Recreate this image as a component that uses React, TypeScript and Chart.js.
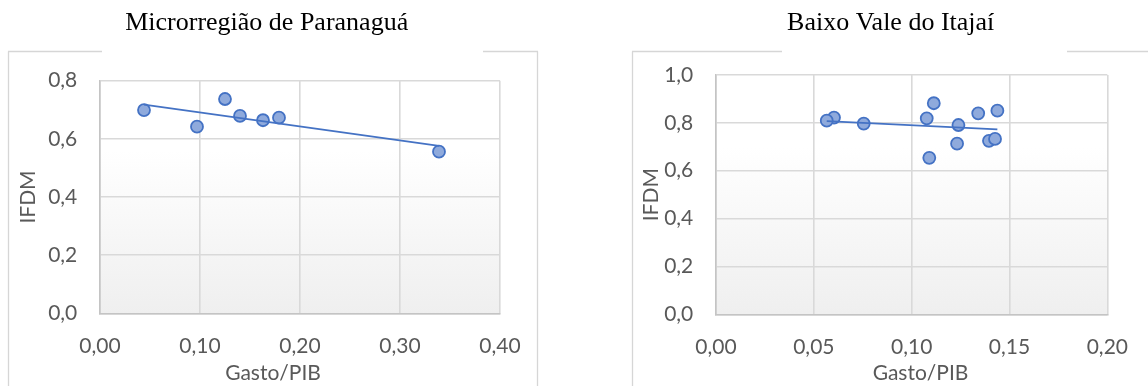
import React, { useEffect, useRef } from 'react';
import { Chart, registerables } from 'chart.js';

Chart.register(...registerables);

// ---------- data ----------
const leftTitle = 'Microrregião de Paranaguá';
const rightTitle = 'Baixo Vale do Itajaí';
const xAxisTitle = 'Gasto/PIB';
const yAxisTitle = 'IFDM';

const leftGasto = [0.044, 0.097, 0.125, 0.140, 0.163, 0.179, 0.339];
const leftIfdm = [0.699, 0.642, 0.737, 0.679, 0.664, 0.673, 0.556];

const rightGasto = [0.0603, 0.0566, 0.0755, 0.1077, 0.1113, 0.109, 0.1239, 0.1232, 0.134, 0.1438, 0.1395, 0.1426];
const rightIfdm = [0.822, 0.809, 0.797, 0.819, 0.882, 0.654, 0.791, 0.713, 0.84, 0.851, 0.725, 0.733];

const leftXTicks = [0, 0.1, 0.2, 0.3, 0.4];
const leftYTicks = [0, 0.2, 0.4, 0.6, 0.8];
const rightXTicks = [0, 0.05, 0.1, 0.15, 0.2];
const rightYTicks = [0, 0.2, 0.4, 0.6, 0.8, 1.0];

// ---------- styles ----------
const TICK_COLOR = '#595959';
const GRID_COLOR = '#d9d9d9';
const AXIS_COLOR = '#c4c4c4';
const FRAME_COLOR = '#d6d6d6';
const POINT_FILL = '#8faadc';
const POINT_BORDER = '#4472c4';
const LABEL_FONT = 'Lato, "Noto Sans", sans-serif';
const TITLE_FONT = '"Liberation Serif", "Times New Roman", serif';

function fmt(decimals: number) {
  return (v: number | string) => Number(v).toFixed(decimals).replace('.', ',');
}

function trend(xs: number[], ys: number[]) {
  const n = xs.length;
  const mx = xs.reduce((a, b) => a + b, 0) / n;
  const my = ys.reduce((a, b) => a + b, 0) / n;
  let sxy = 0;
  let sxx = 0;
  for (let i = 0; i < n; i++) {
    sxy += (xs[i] - mx) * (ys[i] - my);
    sxx += (xs[i] - mx) * (xs[i] - mx);
  }
  const slope = sxy / sxx;
  const x0 = Math.min(...xs);
  const x1 = Math.max(...xs);
  return [
    { x: x0, y: my + slope * (x0 - mx) },
    { x: x1, y: my + slope * (x1 - mx) },
  ];
}

type Cfg = {
  title: string;
  xs: number[];
  ys: number[];
  xTicks: number[];
  yTicks: number[];
  xDec: number;
  canvasLeft: number;
  width: number;
  padL: number;
  padR: number;
  yW: number;
  xH: number;
  titleBottom: number;
  xTitleX: number;
  xTitleY: number;
  frame: number[][]; // line segments in page coords [x1,y1,x2,y2]
};

const leftCfg: Cfg = {
  title: leftTitle,
  xs: leftGasto,
  ys: leftIfdm,
  xTicks: leftXTicks,
  yTicks: leftYTicks,
  xDec: 2,
  canvasLeft: 0,
  width: 575,
  padL: 33.4,
  padR: 75,
  yW: 66.6,
  xH: 72.7,
  titleBottom: 41.5,
  xTitleX: 273,
  xTitleY: 373.5,
  frame: [
    [8.5, 51.5, 8.5, 390],
    [8, 51.5, 102, 51.5],
    [483, 51.5, 538, 51.5],
    [537.5, 51.5, 537.5, 390],
  ],
};

const rightCfg: Cfg = {
  title: rightTitle,
  xs: rightGasto,
  ys: rightIfdm,
  xTicks: rightXTicks,
  yTicks: rightYTicks,
  xDec: 2,
  canvasLeft: 575,
  width: 573,
  padL: 81.4,
  padR: 23,
  yW: 59.6,
  xH: 71.7,
  titleBottom: 35.8,
  xTitleX: 920.5,
  xTitleY: 373.5,
  frame: [
    [632.5, 51.5, 632.5, 390],
    [632, 51.5, 782, 51.5],
    [1067, 51.5, 1150, 51.5],
  ],
};

function makeChart(canvas: HTMLCanvasElement, cfg: Cfg) {
  const points = cfg.xs.map((x, i) => ({ x, y: cfg.ys[i] }));
  const framePlugin = {
    id: 'framePlugin',
    beforeDraw(chart: any) {
      const { ctx, chartArea } = chart;
      ctx.save();
      const g = ctx.createLinearGradient(0, chartArea.top, 0, chartArea.bottom);
      g.addColorStop(0, '#ffffff');
      g.addColorStop(0.3, '#ffffff');
      g.addColorStop(1, '#efefef');
      ctx.fillStyle = g;
      ctx.fillRect(chartArea.left, chartArea.top, chartArea.right - chartArea.left, chartArea.bottom - chartArea.top);
      ctx.strokeStyle = FRAME_COLOR;
      ctx.lineWidth = 1.3;
      for (const s of cfg.frame) {
        ctx.beginPath();
        ctx.moveTo(s[0] - cfg.canvasLeft, s[1]);
        ctx.lineTo(s[2] - cfg.canvasLeft, s[3]);
        ctx.stroke();
      }
      ctx.restore();
    },
    afterDraw(chart: any) {
      const { ctx } = chart;
      ctx.save();
      ctx.font = `21px ${LABEL_FONT}`;
      ctx.fillStyle = TICK_COLOR;
      ctx.textAlign = 'center';
      ctx.textBaseline = 'middle';
      ctx.fillText(xAxisTitle, cfg.xTitleX - cfg.canvasLeft, cfg.xTitleY);
      ctx.restore();
    },
  };

  return new Chart(canvas, {
    type: 'scatter',
    data: {
      datasets: [
        {
          data: trend(cfg.xs, cfg.ys),
          showLine: true,
          borderColor: POINT_BORDER,
          borderWidth: 1.75,
          pointRadius: 0,
          fill: false,
        },
        {
          data: points,
          backgroundColor: POINT_FILL,
          borderColor: POINT_BORDER,
          borderWidth: 1.8,
          pointRadius: 6,
          pointHoverRadius: 6,
        },
      ],
    },
    options: {
      responsive: false,
      animation: false,
      layout: { padding: { left: cfg.padL, right: cfg.padR, top: 0, bottom: 0 } },
      plugins: {
        legend: { display: false },
        tooltip: { enabled: false },
        title: {
          display: true,
          text: cfg.title,
          color: '#000000',
          font: { family: TITLE_FONT, size: 26, weight: 'normal', lineHeight: 1.2 },
          padding: { top: 8, bottom: cfg.titleBottom },
        },
      },
      scales: {
        x: {
          type: 'linear',
          min: cfg.xTicks[0],
          max: cfg.xTicks[cfg.xTicks.length - 1],
          afterBuildTicks: (s: any) => {
            s.ticks = cfg.xTicks.map((v) => ({ value: v }));
          },
          afterFit: (s: any) => {
            s.height = cfg.xH;
          },
          grid: { color: GRID_COLOR, lineWidth: 1.6, drawTicks: false },
          border: { display: true, color: AXIS_COLOR, width: 1.6 },
          ticks: {
            padding: 20,
            color: TICK_COLOR,
            font: { family: LABEL_FONT, size: 21 },
            callback: fmt(cfg.xDec),
            maxRotation: 0,
          },
          title: { display: false },
        },
        y: {
          type: 'linear',
          min: cfg.yTicks[0],
          max: cfg.yTicks[cfg.yTicks.length - 1],
          afterBuildTicks: (s: any) => {
            s.ticks = cfg.yTicks.map((v) => ({ value: v }));
          },
          afterFit: (s: any) => {
            s.width = cfg.yW;
          },
          grid: { color: GRID_COLOR, lineWidth: 1.6, drawTicks: false },
          border: { display: true, color: AXIS_COLOR, width: 1.6 },
          ticks: {
            padding: 22.7,
            color: TICK_COLOR,
            font: { family: LABEL_FONT, size: 21 },
            callback: fmt(1),
          },
          title: {
            display: true,
            text: yAxisTitle,
            color: TICK_COLOR,
            font: { family: LABEL_FONT, size: 21, lineHeight: 1.2 },
            padding: { top: -17.5, bottom: 0 },
          },
        },
      },
    } as any,
    plugins: [framePlugin],
  });
}

export default function App() {
  const leftRef = useRef<HTMLCanvasElement>(null);
  const rightRef = useRef<HTMLCanvasElement>(null);

  useEffect(() => {
    const a = makeChart(leftRef.current as HTMLCanvasElement, leftCfg);
    const b = makeChart(rightRef.current as HTMLCanvasElement, rightCfg);
    return () => {
      a.destroy();
      b.destroy();
    };
  }, []);

  return (
    <div style={{ position: 'absolute', left: 0, top: 0, width: 1148, height: 386, background: '#ffffff', overflow: 'hidden' }}>
      <canvas
        ref={leftRef}
        width={leftCfg.width}
        height={386}
        style={{ position: 'absolute', left: leftCfg.canvasLeft, top: 0, width: leftCfg.width, height: 386 }}
      />
      <canvas
        ref={rightRef}
        width={rightCfg.width}
        height={386}
        style={{ position: 'absolute', left: rightCfg.canvasLeft, top: 0, width: rightCfg.width, height: 386 }}
      />
    </div>
  );
}
